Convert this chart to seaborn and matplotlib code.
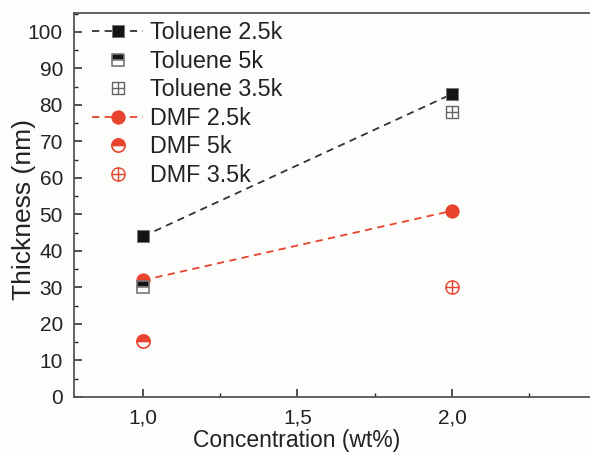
import numpy as np
import pandas as pd
import matplotlib
matplotlib.use("Agg")
import matplotlib.pyplot as plt
import seaborn as sns
from matplotlib.path import Path
from matplotlib.ticker import MultipleLocator, FuncFormatter

# ---- data ----
tol25_x = [1.0, 2.0]
tol25_y = [44, 83]
tol5_x = [1.0]
tol5_y = [30]
tol35_x = [2.0]
tol35_y = [78]
dmf25_x = [1.0, 2.0]
dmf25_y = [32, 51]
dmf5_x = [1.0]
dmf5_y = [15.3]
dmf35_x = [2.0]
dmf35_y = [30]
labels = ["Toluene 2.5k", "Toluene 5k", "Toluene 3.5k", "DMF 2.5k", "DMF 5k", "DMF 3.5k"]

BLACK = "#141414"
RED = "#e8432c"

sns.set_theme(style="white")
plt.rcParams['font.family'] = ['Liberation Sans', 'DejaVu Sans']
plt.rcParams['font.size'] = 15

# crossed markers
sq = Path([(-1, -1), (1, -1), (1, 1), (-1, 1), (-1, -1)],
          [Path.MOVETO, Path.LINETO, Path.LINETO, Path.LINETO, Path.CLOSEPOLY])
cross = Path([(-1, 0), (1, 0), (0, -1), (0, 1)],
             [Path.MOVETO, Path.LINETO, Path.MOVETO, Path.LINETO])
sq_cross = Path.make_compound_path(sq, cross)
circ_cross = Path.make_compound_path(Path.unit_circle(), cross)

fig = plt.figure(figsize=(5.9, 4.53), dpi=100)
fig.patch.set_facecolor("#fdfdfb")
ax = fig.add_axes([74/590, 56/453, 530/590, 384/453])
ax.set_facecolor("#fdfdfb")

def df(x, y):
    return pd.DataFrame({"x": x, "y": y})

sns.lineplot(data=df(dmf25_x, dmf25_y), x="x", y="y", ax=ax, color=RED,
             linestyle=(0, (4, 3)), linewidth=1.3, marker="o", markersize=9.5,
             markeredgecolor=RED, markerfacecolor=RED, label=labels[3], zorder=3)
sns.lineplot(data=df(tol25_x, tol25_y), x="x", y="y", ax=ax, color="#333333",
             linestyle=(0, (4, 3)), linewidth=1.3, marker="s", markersize=8,
             markeredgecolor="#777777", markerfacecolor=BLACK, label=labels[0], zorder=3)
ax.plot(tol5_x, tol5_y, linestyle="", marker="s", markersize=8, fillstyle="top",
        markerfacecolor=BLACK, markerfacecoloralt="white", markeredgecolor="#777777",
        markeredgewidth=1.2, label=labels[1], zorder=4)
ax.plot(tol35_x, tol35_y, linestyle="", marker=sq_cross, markersize=8,
        markerfacecolor="none", markeredgecolor="#666666", markeredgewidth=1.0,
        label=labels[2], zorder=4)
ax.plot(dmf5_x, dmf5_y, linestyle="", marker="o", markersize=9.5, fillstyle="top",
        markerfacecolor=RED, markerfacecoloralt="white", markeredgecolor=RED,
        markeredgewidth=1.2, label=labels[4], zorder=4)
ax.plot(dmf35_x, dmf35_y, linestyle="", marker=circ_cross, markersize=9.5,
        markerfacecolor="none", markeredgecolor=RED, markeredgewidth=1.0,
        label=labels[5], zorder=4)

ax.set_xlim(0.7767, 2.492)
ax.set_ylim(0, 105.2)
ax.xaxis.set_major_locator(MultipleLocator(0.5))
ax.xaxis.set_minor_locator(MultipleLocator(0.25))
ax.yaxis.set_major_locator(MultipleLocator(10))
ax.yaxis.set_minor_locator(MultipleLocator(5))
ax.xaxis.set_major_formatter(FuncFormatter(lambda v, p: f"{v:.1f}".replace(".", ",")))
ax.tick_params(axis="both", which="major", direction="in", length=6, width=1.1,
               labelsize=15, colors="#222222", pad=8)
ax.tick_params(axis="both", which="minor", direction="in", length=3, width=1.0)
ax.tick_params(axis="y", which="both", left=True)
ax.tick_params(axis="x", which="both", bottom=True)
for s in ax.spines.values():
    s.set_color("#555555")
    s.set_linewidth(1.3)
ax.set_xlabel("Concentration (wt%)", fontsize=16.5, color="#222222")
ax.xaxis.set_label_coords((297 - 74) / 530, -(441 - 397) / 384, transform=ax.transAxes)
ax.xaxis.label.set_va("center")
ax.set_ylabel("Thickness (nm)", fontsize=19, color="#222222")
ax.yaxis.set_label_coords(-(74 - 24) / 530, (397 - 210) / 384, transform=ax.transAxes)
ax.yaxis.label.set_va("center")

h, l = ax.get_legend_handles_labels()
hmap = dict(zip(l, h))
leg = ax.legend([hmap[x] for x in labels], labels, loc="upper left", frameon=False,
                fontsize=16.8, handlelength=2.2, handletextpad=0.3, labelspacing=0.235,
                borderaxespad=0.0, borderpad=0.4,
                bbox_to_anchor=((92 - 9.3 - 74) / 530, (397 - 12) / 384))
for t in leg.get_texts():
    t.set_color("#222222")

fig.savefig("out.png", dpi=100, facecolor=fig.get_facecolor())
